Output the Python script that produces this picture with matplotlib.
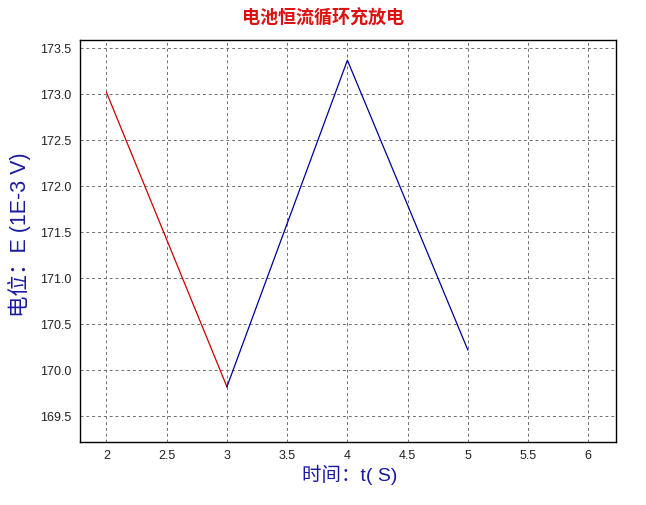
import numpy as np
import matplotlib
matplotlib.use('Agg')
import matplotlib.pyplot as plt

plt.rcParams['font.family'] = ['Liberation Sans', 'Noto Sans CJK SC', 'DejaVu Sans']

# charge (red) and discharge (blue) segments
t_red = [2, 3]
e_red = [173.02, 169.82]
t_blue = [3, 4, 5]
e_blue = [169.82, 173.37, 170.22]

xticks = [2, 2.5, 3, 3.5, 4, 4.5, 5, 5.5, 6]
xticklabels = ['2', '2.5', '3', '3.5', '4', '4.5', '5', '5.5', '6']
yticks = [169.5, 170.0, 170.5, 171.0, 171.5, 172.0, 172.5, 173.0, 173.5]

fig = plt.figure(figsize=(6.46, 5.05), dpi=100)
ax = fig.add_axes([0.1238, 0.1248, 0.8298, 0.796])

ax.plot(t_red, e_red, color='#cc0000', lw=0.9)
ax.plot(t_blue, e_blue, color='#000099', lw=0.9)

ax.set_xlim(1.78, 6.23)
ax.set_ylim(169.22, 173.59)
ax.set_xticks(xticks)
ax.set_xticklabels(xticklabels)
ax.set_yticks(yticks)
ax.set_yticklabels([f'{v:.1f}' for v in yticks])
ax.tick_params(length=0, labelsize=9, colors='#222222', pad=6)
ax.grid(True, ls=(0, (3, 3)), color='#707070', lw=0.7)
for s in ax.spines.values():
    s.set_linewidth(1.0)
    s.set_color('black')

fig.text(0.5, 0.965, '电池恒流循环充放电', ha='center', va='center',
         color='#dd1111', fontsize=13, fontweight='bold',
         family=['Noto Sans CJK SC', 'DejaVu Sans'])
fig.text(0.541, 0.06, '时间：t( S)', ha='center', va='center',
         color='#1a1aa0', fontsize=14, family=['Liberation Sans', 'Noto Sans CJK SC'])
fig.text(0.03, 0.535, '电位：E (1E-3 V)', ha='center', va='center', rotation=90,
         color='#1a1aa0', fontsize=15.5, family=['Liberation Sans', 'Noto Sans CJK SC'])

fig.savefig('out.png', dpi=100)
